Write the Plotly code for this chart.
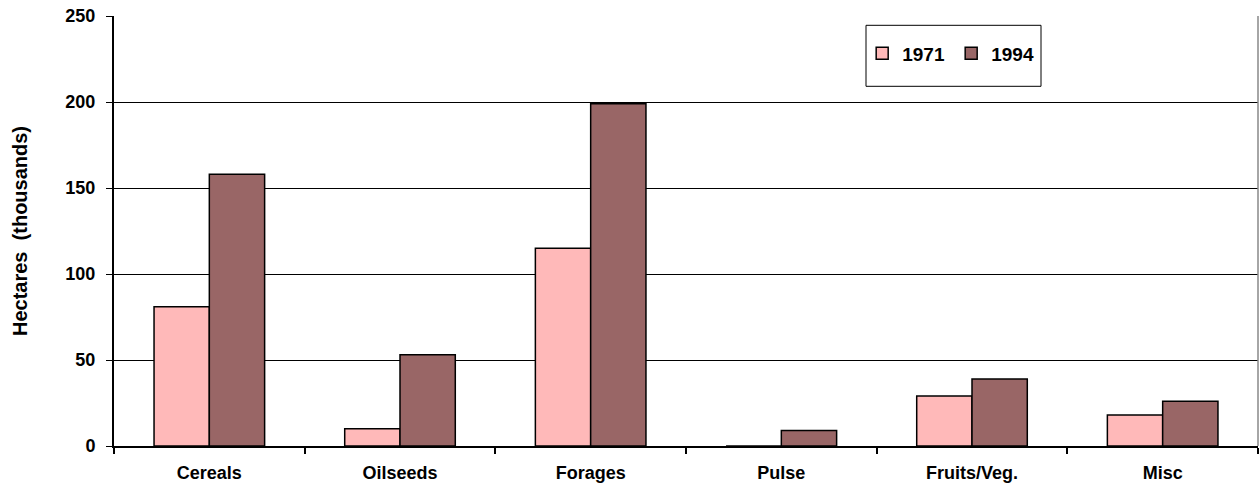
import plotly.graph_objects as go

categories = ["Cereals", "Oilseeds", "Forages", "Pulse", "Fruits/Veg.", "Misc"]
hectares_1971 = [81, 10, 115, 0, 29, 18]
hectares_1994 = [158, 53, 199, 9, 39, 26]
y_ticks = [0, 50, 100, 150, 200, 250]

FONT = "Liberation Sans, Arial, sans-serif"

fig = go.Figure()
fig.add_trace(go.Bar(
    name="<b>1971</b>", x=categories, y=hectares_1971,
    marker=dict(color="#FFB9B9", line=dict(color="#000000", width=1.5)),
))
fig.add_trace(go.Bar(
    name="<b>1994</b>", x=categories, y=hectares_1994,
    marker=dict(color="#996666", line=dict(color="#000000", width=1.5)),
))

fig.update_layout(
    width=1259, height=488,
    margin=dict(l=114, r=1, t=16, b=42),
    paper_bgcolor="white", plot_bgcolor="white",
    barmode="group", bargap=0.42, bargroupgap=0,
    font=dict(family=FONT, size=17, color="#000000"),
    showlegend=True,
    legend=dict(
        orientation="h", x=0.654, xanchor="left", y=0.913, yanchor="middle",
        bgcolor="rgba(0,0,0,0)", borderwidth=0,
        font=dict(family=FONT, size=19, color="#000000"),
        entrywidth=44, itemclick=False,
    ),
    xaxis=dict(
        type="category", tickson="boundaries", ticks="outside", ticklen=6,
        tickcolor="#000000", tickwidth=1.5,
        showline=True, linecolor="#000000", linewidth=2,
        showgrid=False, ticklabelstandoff=9,
        tickfont=dict(family=FONT, size=18, color="#000000", weight="bold"),
    ),
    yaxis=dict(
        range=[0, 250], tickvals=y_ticks, ticks="outside", ticklen=6,
        tickcolor="#000000", tickwidth=1,
        showline=True, linecolor="#000000", linewidth=2,
        showgrid=True, gridcolor="#000000", gridwidth=1,
        zeroline=False, ticklabelstandoff=7,
        tickfont=dict(family=FONT, size=18, color="#000000", weight="bold"),
        title=dict(text="<b>Hectares  (thousands)</b>", standoff=32,
                   font=dict(family=FONT, size=20, color="#000000")),
    ),
    shapes=[
        # legend frame
        dict(type="rect", xref="paper", yref="paper",
             x0=(866 - 114) / 1144, x1=(1041 - 114) / 1144,
             y0=(445.7 - 86) / 430, y1=(445.7 - 25) / 430,
             line=dict(color="#000000", width=1), fillcolor="rgba(0,0,0,0)"),
        # right edge of the chart frame
        dict(type="line", xref="paper", yref="paper", x0=1, x1=1, y0=0, y1=1,
             line=dict(color="#888888", width=1.5)),
    ],
)

fig.write_html("out.html")
